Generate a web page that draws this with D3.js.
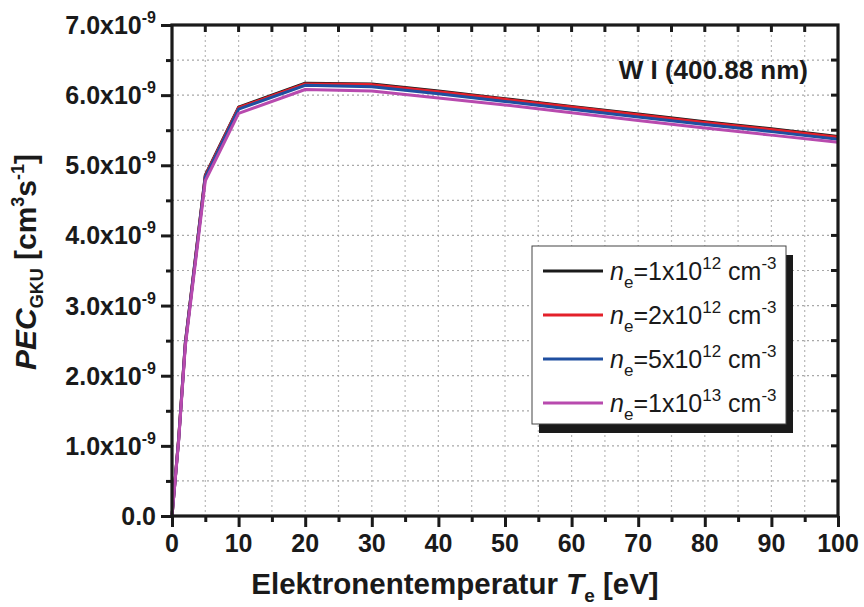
<!DOCTYPE html>
<html>
<head>
<meta charset="utf-8">
<script src="https://cdn.jsdelivr.net/npm/d3@7"></script>
<style>
  html, body { margin: 0; padding: 0; background: #fff; }
  svg { display: block; font-family: "Liberation Sans", Arial, sans-serif; }
</style>
</head>
<body>
<svg id="chart" width="864" height="607"></svg>
<script>
// Electron temperature grid [eV]
const temps = [0, 1, 2, 5, 10, 20, 30, 40, 50, 60, 70, 80, 90, 100];

// Photon emissivity coefficients [1e-9 cm^3 s^-1] per electron density
const pecNe1e12 = [0, 1.10, 2.47, 4.86, 5.83, 6.17, 6.16, 6.06, 5.95, 5.84, 5.73, 5.62, 5.52, 5.41];
const pecNe2e12 = [0, 1.10, 2.46, 4.85, 5.82, 6.16, 6.15, 6.05, 5.94, 5.83, 5.72, 5.61, 5.51, 5.40];
const pecNe5e12 = [0, 1.09, 2.45, 4.83, 5.80, 6.14, 6.12, 6.02, 5.91, 5.80, 5.69, 5.58, 5.48, 5.37];
const pecNe1e13 = [0, 1.07, 2.42, 4.78, 5.74, 6.08, 6.06, 5.96, 5.86, 5.75, 5.64, 5.53, 5.43, 5.33];

// Legend entries: mantissa and exponent of n_e
const seriesMantissa = ["1", "2", "5", "1"];
const seriesExponent = ["12", "12", "12", "13"];
const seriesColors = ["#1a1a1a", "#e3202a", "#1f4fa0", "#b84aae"];
const seriesValues = [pecNe1e12, pecNe2e12, pecNe5e12, pecNe1e13];

const xTicks = [0, 10, 20, 30, 40, 50, 60, 70, 80, 90, 100];
const yTicks = [0, 1, 2, 3, 4, 5, 6, 7];

const svg = d3.select("#chart");
const margin = { left: 172, right: 26, top: 25, bottom: 91 };
const W = 864, H = 607;
const x = d3.scaleLinear().domain([0, 100]).range([margin.left, W - margin.right]);
const y = d3.scaleLinear().domain([0, 7]).range([H - margin.bottom, margin.top]);

const x0 = x(0), x1 = x(100), y0 = y(0), y1 = y(7);

// dotted grid at major and minor positions
const gx = d3.range(5, 100, 5);
const gy = d3.range(0.5, 7, 0.5);
svg.append("g").selectAll("line").data(gx).join("line")
  .attr("x1", d => x(d)).attr("x2", d => x(d))
  .attr("y1", y1).attr("y2", y0)
  .attr("stroke", "#b8b8b8").attr("stroke-width", 1.2)
  .attr("stroke-dasharray", "2,3");
svg.append("g").selectAll("line").data(gy).join("line")
  .attr("x1", x0).attr("x2", x1)
  .attr("y1", d => y(d)).attr("y2", d => y(d))
  .attr("stroke", "#a8a8a8").attr("stroke-width", 1.2)
  .attr("stroke-dasharray", "2,3");

// curves
const line = d3.line().x((d, i) => x(temps[i])).y(d => y(d));
seriesValues.forEach((vals, k) => {
  svg.append("path").datum(vals)
    .attr("d", line)
    .attr("fill", "none")
    .attr("stroke", seriesColors[k])
    .attr("stroke-width", 3)
    .attr("stroke-linejoin", "round");
});

// axes
const axisW = 3.2;
const bottom = d3.axisBottom(x).tickValues(d3.range(0, 101, 5)).tickSize(0).tickFormat("");
const gb = svg.append("g").attr("transform", `translate(0,${y0})`).call(bottom);
gb.select(".domain").remove();
gb.selectAll(".tick line").remove();
gb.selectAll(".tick").append("line")
  .attr("y1", 0).attr("y2", d => d % 10 === 0 ? 11 : 6)
  .attr("stroke", "#1a1a1a").attr("stroke-width", 3);

const left = d3.axisLeft(y).tickValues(d3.range(0, 7.01, 0.5)).tickSize(0).tickFormat("");
const gl = svg.append("g").attr("transform", `translate(${x0},0)`).call(left);
gl.select(".domain").remove();
gl.selectAll(".tick line").remove();
gl.selectAll(".tick").append("line")
  .attr("x1", 0).attr("x2", d => Math.abs(d - Math.round(d)) < 1e-6 ? -11 : -6)
  .attr("stroke", "#1a1a1a").attr("stroke-width", 3);

// inward ticks on right and top
svg.append("g").selectAll("line").data(d3.range(0.5, 7, 0.5)).join("line")
  .attr("x1", x1).attr("x2", x1 - 7)
  .attr("y1", d => y(d)).attr("y2", d => y(d))
  .attr("stroke", "#1a1a1a").attr("stroke-width", 3);
svg.append("g").selectAll("line").data(d3.range(5, 100, 5)).join("line")
  .attr("x1", d => x(d)).attr("x2", d => x(d))
  .attr("y1", y1).attr("y2", y1 + 7)
  .attr("stroke", "#1a1a1a").attr("stroke-width", 3);

// frame
svg.append("rect").attr("x", x0).attr("y", y1)
  .attr("width", x1 - x0).attr("height", y0 - y1)
  .attr("fill", "none").attr("stroke", "#1a1a1a").attr("stroke-width", axisW);

// tick labels
svg.append("g").selectAll("text").data(xTicks).join("text")
  .attr("x", d => x(d)).attr("y", y0 + 36)
  .attr("text-anchor", "middle")
  .attr("font-weight", "bold").attr("font-size", 25).attr("fill", "#1a1a1a")
  .text(d => d);

const yl = svg.append("g").selectAll("text").data(yTicks).join("text")
  .attr("x", 156).attr("y", d => y(d) + 9)
  .attr("text-anchor", "end")
  .attr("font-weight", "bold").attr("font-size", 25).attr("fill", "#1a1a1a");
yl.each(function(d) {
  const t = d3.select(this);
  if (d === 0) {
    t.text("0.0");
  } else {
    t.append("tspan").text(d.toFixed(1) + "x10");
    t.append("tspan").attr("dy", -11).attr("font-size", 16).text("-9");
  }
});

// axis titles
const xt = svg.append("text")
  .attr("x", 455).attr("y", 594)
  .attr("text-anchor", "middle")
  .attr("font-weight", "bold").attr("font-size", 29.5).attr("fill", "#1a1a1a");
xt.append("tspan").text("Elektronentemperatur ");
xt.append("tspan").attr("font-style", "italic").text("T");
xt.append("tspan").attr("dy", 8).attr("font-size", 19).text("e");
xt.append("tspan").attr("dy", -8).text(" [eV]");

const yt = svg.append("text")
  .attr("transform", `translate(36,262) rotate(-90)`)
  .attr("text-anchor", "middle")
  .attr("font-weight", "bold").attr("font-size", 30).attr("fill", "#1a1a1a");
yt.append("tspan").attr("font-style", "italic").text("PEC");
yt.append("tspan").attr("dy", 7).attr("font-size", 18).text("GKU");
yt.append("tspan").attr("dy", -7).text(" [cm");
yt.append("tspan").attr("dy", -12).attr("font-size", 18).text("3");
yt.append("tspan").attr("dy", 12).text("s");
yt.append("tspan").attr("dy", -12).attr("font-size", 18).text("-1");
yt.append("tspan").attr("dy", 12).text("]");

// line label
svg.append("text")
  .attr("x", 808).attr("y", 79)
  .attr("text-anchor", "end")
  .attr("font-weight", "bold").attr("font-size", 26).attr("fill", "#1a1a1a")
  .text("W I (400.88 nm)");

// legend with drop shadow
const lg = { x: 532, y: 246, w: 254, h: 178 };
svg.append("rect").attr("x", lg.x + 7).attr("y", lg.y + 9)
  .attr("width", lg.w).attr("height", lg.h).attr("fill", "#1a1a1a");
svg.append("rect").attr("x", lg.x).attr("y", lg.y)
  .attr("width", lg.w).attr("height", lg.h)
  .attr("fill", "#fff").attr("stroke", "#444").attr("stroke-width", 1);

seriesColors.forEach((c, k) => {
  const cy = lg.y + 25 + k * 44;
  svg.append("line").attr("x1", lg.x + 11).attr("x2", lg.x + 71)
    .attr("y1", cy).attr("y2", cy)
    .attr("stroke", c).attr("stroke-width", 3);
  const t = svg.append("text").attr("x", lg.x + 78).attr("y", cy + 9)
    .attr("font-size", 25).attr("fill", "#1a1a1a");
  t.append("tspan").attr("font-style", "italic").text("n");
  t.append("tspan").attr("dy", 8).attr("font-size", 17).text("e");
  t.append("tspan").attr("dy", -8).text("=" + seriesMantissa[k] + "x10");
  t.append("tspan").attr("dy", -11).attr("font-size", 17).text(seriesExponent[k]);
  t.append("tspan").attr("dy", 11).text(" cm");
  t.append("tspan").attr("dy", -11).attr("font-size", 17).text("-3");
});
</script>
</body>
</html>
